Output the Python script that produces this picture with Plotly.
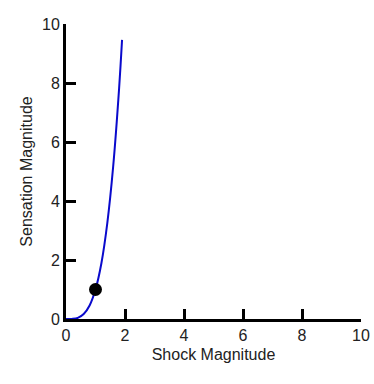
import plotly.graph_objects as go

# Curve values
curve_x = [0, 0.2, 0.4, 0.6, 0.8, 1.0, 1.2, 1.4, 1.6, 1.8, 1.9]
curve_y = [0, 0.004, 0.04, 0.17, 0.46, 1.0, 1.89, 3.25, 5.18, 7.82, 9.46]
point_x = [1]
point_y = [1]
tick_vals = [0, 2, 4, 6, 8, 10]

fig = go.Figure()
fig.add_trace(go.Scatter(x=curve_x, y=curve_y, mode="lines",
                         line=dict(color="#0A0ACC", width=2, shape="spline"),
                         showlegend=False, hoverinfo="skip"))
fig.add_trace(go.Scatter(x=point_x, y=point_y, mode="markers",
                         marker=dict(color="black", size=13),
                         showlegend=False))

axis_common = dict(
    range=[0, 10], tickvals=tick_vals, showgrid=False, zeroline=False,
    showline=True, linecolor="black", linewidth=3, automargin=False,
    ticks="inside", ticklen=10, tickwidth=3, tickcolor="black",
    tickfont=dict(family="Liberation Sans, Arial", size=16, color="#222"),
    title_font=dict(family="Liberation Sans, Arial", size=16, color="#222"),
)

fig.update_layout(
    width=374, height=384,
    margin=dict(l=66, r=13, t=24, b=65),
    paper_bgcolor="white", plot_bgcolor="white",
    xaxis=dict(**axis_common, title=dict(text="Shock Magnitude", standoff=6)),
    yaxis=dict(**axis_common, title=dict(text="Sensation Magnitude", standoff=6)),
)
fig.write_html(
    "out.html",
    config={"displayModeBar": False},
    post_script="document.body.style.margin='0';document.body.style.overflow='hidden';",
)
